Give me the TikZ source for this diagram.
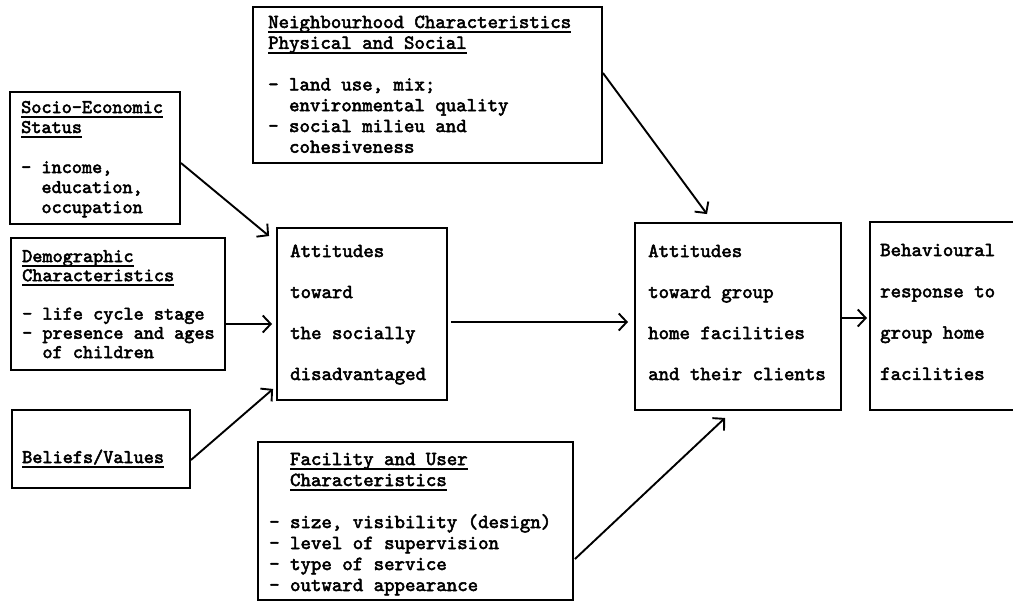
\documentclass[tikz,border=0pt]{standalone}
\usepackage{fontspec}
\newfontfamily\tw{lmmono10-regular.otf}[FakeBold=2.6]
\usetikzlibrary{arrows.meta,fit}

\newcommand{\ul}[1]{\setbox0\hbox{#1}\rlap{\rule[-5pt]{\wd0}{1.8pt}}\box0}
\newcommand{\tblock}[2]{\vtop{\baselineskip=#1pt\lineskiplimit=-1000pt\lineskip=0pt\halign{##\hfil\cr#2\crcr}}}

\begin{document}
\begin{tikzpicture}[x=1pt,y=-1pt,
  box/.style={draw, line width=1.9pt, inner sep=0pt},
  txt/.style={anchor=base west, inner sep=0pt, font=\tw\bfseries\fontsize{19.9}{20}\selectfont},
  txtl/.style={txt, font=\tw\bfseries\fontsize{19.3}{20}\selectfont},
  arr/.style={-{Straight Barb[length=8pt,width=17pt,line width=1.9pt]}, line width=1.9pt}]
\path[use as bounding box, clip] (0,0) rectangle (1013,603);
\fill[white] (0,0) rectangle (1013,603);

% boxes
\node[box, fit={(10,92) (180,224)}] (se) {};
\node[box, fit={(11,238) (225,370)}] (dm) {};
\node[box, fit={(12,410) (190,488)}] (bv) {};
\node[box, fit={(253,7) (602,163)}] (nb) {};
\node[box, fit={(277,228) (447,400)}] (a1) {};
\node[box, fit={(258,442) (573,600)}] (fc) {};
\node[box, fit={(635,223) (841,410)}] (a2) {};
\node[box, fit={(870,222) (1040,410)}] (bh) {};

% texts
\node[txtl] (set) at (21,113) {\tblock{20}{\ul{Socio-Economic}\cr\ul{Status}\cr\cr- income,\cr\hphantom{- }education,\cr\hphantom{- }occupation}};
\node[txtl] (dmt) at (22,262) {\tblock{19.2}{\ul{Demographic}\cr\ul{Characteristics}\cr\cr- life cycle stage\cr- presence and ages\cr\hphantom{- }of children}};
\node[txtl] (bvt) at (22,463) {\tblock{20}{\ul{Beliefs/Values}}};
\node[txt] (nbt) at (268,28) {\tblock{20.8}{\ul{Neighbourhood Characteristics}\cr\ul{Physical and Social}\cr\cr- land use, mix;\cr\hphantom{- }environmental quality\cr- social milieu and\cr\hphantom{- }cohesiveness}};
\node[txt] (a1t) at (290,257) {\tblock{41}{Attitudes\cr toward\cr the socially\cr disadvantaged}};
\node[txt] (fct) at (269,465) {\tblock{21}{\hphantom{- }\ul{Facility and User}\cr\hphantom{- }\ul{Characteristics}\cr\cr- size, visibility (design)\cr- level of supervision\cr- type of service\cr- outward appearance}};
\node[txt] (a2t) at (648,257) {\tblock{41}{Attitudes\cr toward group\cr home facilities\cr and their clients}};
\node[txt] (bht) at (880,256) {\tblock{41.3}{Behavioural\cr response to\cr group home\cr facilities}};

% connectors
\draw[arr] ([shift={(0,5)}]se.east) -- ([shift={(-7,9)}]a1.north west);
\draw[arr] ([shift={(0,20)}]dm.east) -- ([shift={(-4,10)}]a1.west);
\draw[arr] ([shift={(0,11)}]bv.east) -- ([shift={(-3,-12)}]a1.south west);
\draw[arr] ([shift={(3,8)}]a1.east) -- ([shift={(-6,5.5)}]a2.west);
\draw[arr] ([shift={(0,-12)}]nb.east) -- ([shift={(-31,-8)}]a2.north);
\draw[arr] ([shift={(1,38)}]fc.east) -- ([shift={(-13,7)}]a2.south);
\draw[arr] ([shift={(0,1.5)}]a2.east) -- ([shift={(-2,2)}]bh.west);
\end{tikzpicture}
\end{document}
